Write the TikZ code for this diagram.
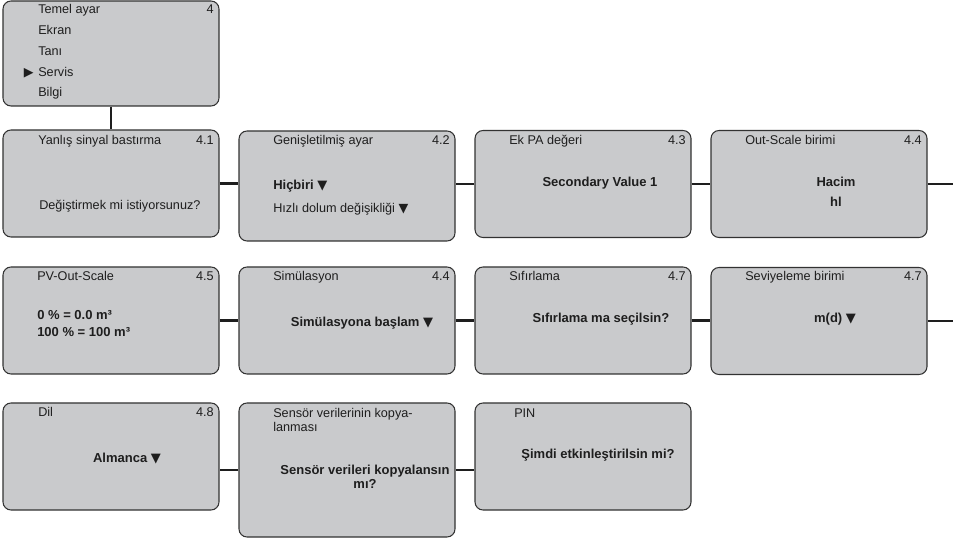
\documentclass[tikz,border=0pt]{standalone}
\usepackage{fontspec}
\setmainfont{Liberation Sans}
\newfontfamily\trifont{DejaVu Sans}
\definecolor{panelgray}{RGB}{201,202,204}
\definecolor{edgegray}{RGB}{50,50,50}
\definecolor{inkgray}{RGB}{30,30,30}

\begin{document}
\begin{tikzpicture}[x=0.75pt,y=0.75pt,yscale=-1,xscale=1,
	panel/.style={draw=edgegray,line width=0.8pt,fill=panelgray,rounded corners=6pt,
		minimum width=162pt,minimum height=80.25pt,inner sep=0pt},
	link/.style={draw=inkgray,line width=1.6pt},
	lbl/.style={inner sep=0pt,text=inkgray,font=\fontsize{9.5}{10.5}\selectfont,
		text height=1.5ex,text depth=.25ex},
	val/.style={lbl,font=\fontsize{9.75}{10.5}\selectfont\bfseries}]
	\useasboundingbox (0,0) rectangle (953,541);
	
	%Shape: Rounded Rect, main menu
	\node [panel,minimum height=78.75pt] (p4) at (111,53.5) {};
	%Shape: Rounded Rect, first row
	\node [panel] (p41) at (111,183.5) {};
	\node [panel,minimum height=82.5pt] (p42) at (347,186) {};
	\node [panel] (p43) at (583,184) {};
	\node [panel] (p44) at (819,184) {};
	%Shape: Rounded Rect, second row
	\node [panel] (p45) at (111,320.5) {};
	\node [panel] (p46) at (347,320.5) {};
	\node [panel] (p47) at (583,320.5) {};
	\node [panel] (p48) at (819,321) {};
	%Shape: Rounded Rect, third row
	\node [panel] (pdil) at (111,456.5) {};
	\node [panel,minimum height=100.5pt] (psens) at (347,470) {};
	\node [panel] (ppin) at (583,456.5) {};
	
	\coordinate (e1) at (953,184);
	\coordinate (e2) at (953,321);
	
	%Straight Lines
	\draw [link] (p4) -- (p41);
	\draw [link] (p41.east) -- (p41.east -| p42.west);
	\draw [link] (p43.west) -- (p43.west -| p42.east);
	\draw [link] (p43) -- (p44);
	\draw [link] (p44) -- (e1);
	\draw [link] (p45) -- (p46);
	\draw [link] (p46) -- (p47);
	\draw [link] (p47.east) -- (p47.east -| p48.west);
	\draw [link] (p48) -- (e2);
	\draw [link] (psens.west) -- (psens.west -| pdil.east);
	\draw [link] (psens.east) -- (psens.east -| ppin.west);
	
	% Text Node: main menu
	\node [lbl,anchor=west] (m1) at (38,9) {Temel ayar};
	\node [lbl,anchor=west] (m2) at (38,30) {Ekran};
	\node [lbl,anchor=west] (m3) at (38,51) {Tanı};
	\node [lbl,anchor=west] (m4) at (38,72) {Servis};
	\node [lbl,anchor=west] (m5) at (38,92) {Bilgi};
	\node [lbl,anchor=east,font=\trifont\fontsize{9.5}{10}\selectfont] (cursor) at (34,72) {▶};
	\node [lbl,anchor=east] (n4) at (214,9) {4};
	
	% Text Node: 4.1
	\node [lbl,anchor=west] (t41) at (38,140) {Yanlış sinyal bastırma};
	\node [lbl,anchor=east] (n41) at (214,140) {4.1};
	\node [lbl,anchor=west] (v41) at (39,205) {Değiştirmek mi istiyorsunuz?};
	% Text Node: 4.2
	\node [lbl,anchor=west] (t42) at (273,140) {Genişletilmiş ayar};
	\node [lbl,anchor=east] (n42) at (450,140) {4.2};
	\node [val,anchor=west] (v42a) at (273,185) {Hiçbiri {\trifont ▼}};
	\node [lbl,anchor=west] (v42b) at (273,208) {Hızlı dolum değişikliği {\trifont ▼}};
	% Text Node: 4.3
	\node [lbl,anchor=west] (t43) at (509,140) {Ek PA değeri};
	\node [lbl,anchor=east] (n43) at (686,140) {4.3};
	\node [val] (v43) at (600,182) {Secondary Value 1};
	% Text Node: 4.4
	\node [lbl,anchor=west] (t44) at (745,140) {Out-Scale birimi};
	\node [lbl,anchor=east] (n44) at (922,140) {4.4};
	\node [val] (v44a) at (836,182) {Hacim};
	\node [val] (v44b) at (836,202) {hl};
	
	% Text Node: 4.5
	\node [lbl,anchor=west] (t45) at (37,276) {PV-Out-Scale};
	\node [lbl,anchor=east] (n45) at (214,276) {4.5};
	\node [val,anchor=west] (v45a) at (37,315) {0 \% = 0.0 m³};
	\node [val,anchor=west] (v45b) at (37,332) {100 \% = 100 m³};
	% Text Node: simulation
	\node [lbl,anchor=west] (t46) at (273,276) {Simülasyon};
	\node [lbl,anchor=east] (n46) at (450,276) {4.4};
	\node [val] (v46) at (362,322) {Simülasyona başlam {\trifont ▼}};
	% Text Node: reset
	\node [lbl,anchor=west] (t47) at (509,276) {Sıfırlama};
	\node [lbl,anchor=east] (n47) at (686,276) {4.7};
	\node [val] (v47) at (601,318) {Sıfırlama ma seçilsin?};
	% Text Node: level unit
	\node [lbl,anchor=west] (t48) at (745,276) {Seviyeleme birimi};
	\node [lbl,anchor=east] (n48) at (922,276) {4.7};
	\node [val] (v48) at (835,318) {m(d) {\trifont ▼}};
	
	% Text Node: language
	\node [lbl,anchor=west] (tdil) at (38,412) {Dil};
	\node [lbl,anchor=east] (ndil) at (214,412) {4.8};
	\node [val] (vdil) at (127,458) {Almanca {\trifont ▼}};
	% Text Node: copy sensor data
	\node [lbl,anchor=west] (tsens1) at (273,413) {Sensör verilerinin kopya-};
	\node [lbl,anchor=west] (tsens2) at (273,427) {lanması};
	\node [val] (vsens1) at (365,470) {Sensör verileri kopyalansın};
	\node [val] (vsens2) at (365,484) {mı?};
	% Text Node: PIN
	\node [lbl,anchor=west] (tpin) at (514,413) {PIN};
	\node [val] (vpin) at (598,454) {Şimdi etkinleştirilsin mi?};
	
\end{tikzpicture}
\end{document}
